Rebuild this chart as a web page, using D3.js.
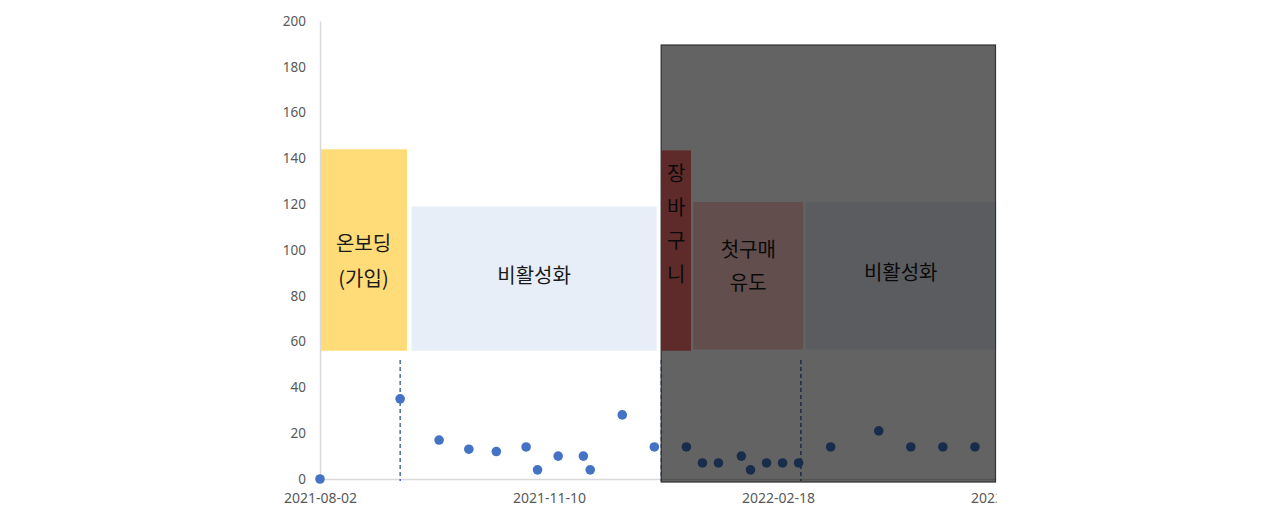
<!DOCTYPE html>
<html>
<head>
<meta charset="utf-8">
<script src="https://cdn.jsdelivr.net/npm/d3@7"></script>
<style>
    body { margin: 0; background: #fff; }
    .tick text { font-family: "Noto Sans", sans-serif; fill: #595959; }
    .phaseLabel { font-family: "Noto Sans CJK KR", sans-serif; font-size: 20px; fill: #1a1a1a; }
</style>
</head>
<body>
<script>
//visit dates and counts
var visitDates = ["2021-08-02","2021-09-06","2021-09-23","2021-10-06","2021-10-18","2021-10-31",
    "2021-11-05","2021-11-14","2021-11-25","2021-11-28","2021-12-12","2021-12-26","2022-01-09",
    "2022-01-16","2022-01-23","2022-02-02","2022-02-06","2022-02-13","2022-02-20","2022-02-27",
    "2022-03-13","2022-04-03","2022-04-17","2022-05-01","2022-05-15"];
var visitCounts = [0, 35, 17, 13, 12, 14, 4, 10, 10, 4, 28, 14, 14, 7, 7, 10, 4, 7, 7, 7, 14, 21, 14, 14, 14];

//customer phases (start, end, value band, label lines)
var phaseNames = ["onboarding", "inactive1", "cart", "firstBuy", "inactive2"];
var phaseStart = ["2021-08-02", "2021-09-11", "2021-12-29", "2022-01-12", "2022-03-02"];
var phaseEnd = ["2021-09-09", "2021-12-27", "2022-01-11", "2022-03-01", "2022-06-10"];
var phaseTop = [144, 119, 143.5, 121, 121];
var phaseBottom = [56, 56, 56, 56.5, 56.5];
var phaseLabels = [["온보딩", "(가입)"], ["비활성화"], ["장", "바", "구", "니"], ["첫구매", "유도"], ["비활성화"]];

//dashed phase markers
var markerDates = ["2021-09-06", "2021-12-29", "2022-02-28"];
var markerTop = 52;

//shaded "future" window
var shadeStart = "2021-12-29", shadeEnd = "2022-05-24", shadeTop = 189.5, shadeBottom = -1.3;

//axis ticks
var xTickDates = ["2021-08-02", "2021-11-10", "2022-02-18", "2022-05-29"];
var yTicks = [0, 20, 40, 60, 80, 100, 120, 140, 160, 180, 200];

var w = 1280, h = 532;
var parse = d3.timeParse("%Y-%m-%d");
var fmt = d3.timeFormat("%Y-%m-%d");

var svg = d3.select("body").append("svg")
    .attr("width", w)
    .attr("height", h);

//chart picture is cut off on the right
svg.append("clipPath").attr("id", "cut")
    .append("rect").attr("x", 0).attr("y", 0).attr("width", 996.5).attr("height", h);

var g = svg.append("g").attr("clip-path", "url(#cut)");

var x = d3.scaleTime()
    .domain([parse("2021-08-02"), parse("2022-06-10")])
    .range([320, 320 + 312 * 2.29]);

var y = d3.scaleLinear()
    .domain([0, 200])
    .range([479, 21]);

var phaseColors = ["#ffdc78", "#e8eef7", "#f46e6e", "#fec8c8", "#e8eef7"];

//where the first label line sits below the box top, and line spacing
var labelPlace = {
    onboarding: { first: 95, step: 35 },
    inactive1: { first: 70, step: 0 },
    cart: { first: 24, step: 33.4 },
    firstBuy: { first: 48, step: 33 },
    inactive2: { first: 71, step: 0 }
};

//phase boxes
var phases = phaseNames.map(function(d, i){
    return { name: d, start: parse(phaseStart[i]), end: parse(phaseEnd[i]),
        top: phaseTop[i], bottom: phaseBottom[i], label: phaseLabels[i], color: phaseColors[i] };
});

g.selectAll(".phase")
    .data(phases)
    .enter()
    .append("rect")
    .attr("class", "phase")
    .attr("x", function(d){ return x(d.start); })
    .attr("y", function(d){ return y(d.top); })
    .attr("width", function(d){ return x(d.end) - x(d.start); })
    .attr("height", function(d){ return y(d.bottom) - y(d.top); })
    .style("fill", function(d){ return d.color; });

//axes
var yAxis = d3.axisLeft(y).tickValues(yTicks).tickSize(0).tickPadding(14);
var yg = g.append("g")
    .attr("transform", "translate(320,0)")
    .call(yAxis);
yg.select(".domain").attr("stroke", "#d9d9d9").attr("stroke-width", 1.5);
yg.selectAll(".tick text").style("font-size", "13.5px");

var xAxis = d3.axisBottom(x)
    .tickValues(xTickDates.map(parse))
    .tickFormat(fmt)
    .tickSize(0)
    .tickPadding(14);
var xg = g.append("g")
    .attr("transform", "translate(0,479)")
    .call(xAxis);
xg.select(".domain").attr("stroke", "#d9d9d9").attr("stroke-width", 1.5);
xg.selectAll(".tick text").style("font-size", "14px");

//phase labels
phases.forEach(function(p){
    var cx = (x(p.start) + x(p.end)) / 2;
    if (p.name == "inactive2") cx = (x(p.start) + 996) / 2;
    var place = labelPlace[p.name];
    var top = y(p.top);
    g.append("text")
        .attr("class", "phaseLabel")
        .attr("text-anchor", "middle")
        .selectAll("tspan")
        .data(p.label)
        .enter()
        .append("tspan")
        .attr("x", cx)
        .attr("y", function(d, i){ return top + place.first + i * place.step; })
        .attr("dy", "0.35em")
        .text(function(d){ return d; });
});

//dashed markers
g.selectAll(".marker")
    .data(markerDates.map(parse))
    .enter()
    .append("line")
    .attr("class", "marker")
    .attr("x1", function(d){ return x(d); })
    .attr("x2", function(d){ return x(d); })
    .attr("y1", y(markerTop))
    .attr("y2", y(0) + 2)
    .style("stroke", "#2f5597")
    .style("stroke-width", 1.3)
    .style("stroke-dasharray", "4,3");

//visit points
g.selectAll(".visit")
    .data(visitDates.map(function(d, i){ return { date: parse(d), count: visitCounts[i] }; }))
    .enter()
    .append("circle")
    .attr("class", "visit")
    .attr("cx", function(d){ return x(d.date); })
    .attr("cy", function(d){ return y(d.count); })
    .attr("r", 4.8)
    .style("fill", "#4472c4");

//dark overlay on the later period
g.append("rect")
    .attr("x", x(parse(shadeStart)))
    .attr("y", y(shadeTop))
    .attr("width", x(parse(shadeEnd)) - x(parse(shadeStart)))
    .attr("height", y(shadeBottom) - y(shadeTop))
    .style("fill", "rgba(0,0,0,0.61)")
    .style("stroke", "#333")
    .style("stroke-width", 1.3);
</script>
</body>
</html>
